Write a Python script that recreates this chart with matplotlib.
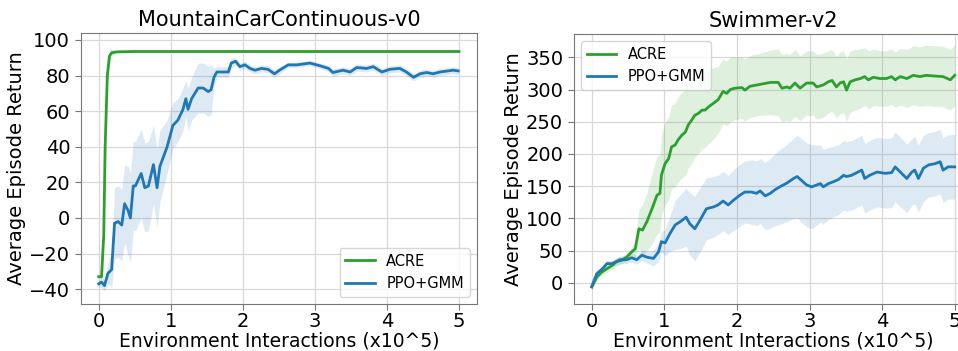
import matplotlib
matplotlib.use('Agg')
import matplotlib.pyplot as plt
import numpy as np

# MountainCarContinuous-v0
mc_acre_x = [0.00, 0.04, 0.07, 0.09, 0.12, 0.15, 0.18, 0.25, 0.50, 5.00]
mc_acre_y = [-33, -33, -10, 40, 80, 91, 92.8, 93.3, 93.5, 93.5]
mc_acre_sd = [1, 1, 2, 3, 4, 5, 2, 0.5, 0.3, 0.3]

mc_ppo_x = [0.00, 0.04, 0.08, 0.13, 0.18, 0.22, 0.27, 0.32, 0.36, 0.41, 0.44, 0.48, 0.51,
            0.59, 0.64, 0.69, 0.76, 0.81, 0.85, 0.95, 1.03, 1.10, 1.17, 1.21, 1.24, 1.29,
            1.38, 1.45, 1.52, 1.56, 1.60, 1.64, 1.73, 1.80, 1.84, 1.90, 1.96, 2.03, 2.10,
            2.17, 2.26, 2.35, 2.44, 2.51, 2.63, 2.75, 2.93, 3.07, 3.19, 3.25, 3.39, 3.49,
            3.58, 3.72, 3.81, 3.93, 4.04, 4.18, 4.27, 4.37, 4.46, 4.55, 4.64, 4.74, 4.83,
            4.92, 4.99]
mc_ppo_y = [-37, -36, -38, -31, -29, -3, -2, -4, 8, 4, 0, 18, 18,
            25, 17, 18, 30, 17, 29, 40, 52, 55, 61, 67, 61, 67,
            73, 73, 71, 72, 79, 82, 82, 82, 87, 88, 85, 86, 84,
            83, 84, 83.5, 81, 83, 86, 86, 87, 85.5, 84, 81.7, 83, 82,
            84.5, 84, 85, 82, 83.5, 84, 82, 79, 81, 81.7, 81, 82, 82.5,
            83, 82.6]
mc_ppo_sd = [2, 3, 3, 6, 10, 20, 20, 20, 22, 25, 25, 25, 25,
             25, 25, 25, 22, 22, 20, 15, 13, 12, 12, 10, 12, 12,
             14, 14, 14, 14, 5, 3, 3, 3, 3, 2, 2, 2, 2,
             2, 2, 2, 2, 2, 1.5, 1.5, 1.5, 1.5, 2, 2, 2, 2,
             2, 2, 2, 2, 2, 2, 2, 2, 2, 2, 2, 2, 2,
             2, 2]

# Swimmer-v2
sw_acre_x = [0.00, 0.07, 0.14, 0.21, 0.28, 0.34, 0.41, 0.48, 0.55, 0.60, 0.65, 0.70, 0.76,
             0.83, 0.90, 0.94, 0.96, 1.01, 1.06, 1.10, 1.15, 1.19, 1.24, 1.29, 1.33, 1.38,
             1.42, 1.47, 1.52, 1.56, 1.61, 1.68, 1.74, 1.81, 1.86, 1.91, 1.97, 2.07, 2.11,
             2.18, 2.32, 2.46, 2.57, 2.62, 2.69, 2.73, 2.80, 2.87, 2.96, 3.05, 3.10, 3.19,
             3.26, 3.31, 3.37, 3.42, 3.47, 3.51, 3.56, 3.63, 3.70, 3.76, 3.81, 3.88, 3.97,
             4.06, 4.13, 4.18, 4.25, 4.34, 4.43, 4.52, 4.61, 4.71, 4.84, 4.94, 5.00]
sw_acre_y = [-6, 9, 17, 22, 27, 33, 35, 40, 48, 53, 84, 82, 95,
             115, 136, 139, 167, 185, 193, 211, 214, 222, 229, 234, 245, 253,
             260, 263, 268, 268, 273, 279, 284, 297, 294, 300, 302, 303, 299,
             305, 308, 311, 311, 302, 304, 302, 310, 302, 310, 310, 304, 307,
             312, 314, 304, 310, 312, 299, 312, 315, 317, 320, 315, 319, 317,
             317, 320, 315, 320, 317, 322, 320, 322, 321, 320, 315, 322]
sw_acre_sd = [5, 5, 5, 6, 6, 6, 6, 6, 8, 12, 30, 40, 45,
              55, 60, 60, 62, 64, 65, 65, 65, 66, 66, 67, 67, 67,
              65, 62, 60, 58, 57, 55, 52, 50, 50, 50, 49, 48, 48,
              48, 48, 50, 52, 52, 52, 52, 52, 50, 50, 50, 50, 50,
              48, 48, 48, 48, 48, 48, 48, 47, 46, 45, 45, 44, 43,
              43, 43, 43, 44, 45, 46, 46, 47, 47, 47, 47, 47]

sw_ppo_x = [0.00, 0.07, 0.14, 0.21, 0.28, 0.34, 0.39, 0.48, 0.55, 0.62, 0.69, 0.76, 0.85,
            0.92, 0.96, 1.01, 1.08, 1.15, 1.22, 1.30, 1.35, 1.42, 1.49, 1.58, 1.68, 1.74,
            1.81, 1.88, 1.95, 2.04, 2.11, 2.20, 2.27, 2.32, 2.39, 2.46, 2.53, 2.59, 2.69,
            2.78, 2.83, 2.89, 2.96, 3.03, 3.10, 3.15, 3.19, 3.26, 3.33, 3.40, 3.47, 3.51,
            3.58, 3.65, 3.72, 3.76, 3.83, 3.93, 4.04, 4.13, 4.18, 4.25, 4.34, 4.41, 4.45,
            4.50, 4.57, 4.64, 4.73, 4.80, 4.84, 4.91, 5.00]
sw_ppo_y = [-6, 14.5, 21, 30, 30, 33, 36, 36, 39, 36, 43, 40, 38,
            48, 64, 62, 77, 90, 95, 102, 92, 84, 97, 115, 118, 121,
            127, 121, 128, 136, 141, 141, 139, 142.7, 135, 139, 145, 149, 155,
            162, 165, 159, 152, 149, 152, 154, 149, 154, 157, 160.5, 167, 165,
            167, 171, 175, 162, 167, 172, 170, 171, 180, 172, 162, 172, 175,
            162, 178, 183, 185, 188, 175, 180, 180]
sw_ppo_sd = [4, 5, 5, 5, 5, 6, 6, 6, 7, 7, 8, 9, 12,
             14, 16, 20, 28, 38, 42, 45, 48, 50, 50, 48, 47, 46,
             46, 46, 47, 48, 48, 50, 50, 50, 52, 54, 56, 58, 60,
             62, 64, 65, 65, 65, 62, 60, 58, 56, 55, 54, 54, 54,
             54, 54, 54, 54, 54, 54, 54, 54, 54, 54, 53, 52, 52,
             52, 51, 50, 50, 50, 50, 50, 50]

green = '#2ca02c'
blue = '#1f77b4'


def draw_curve(ax, x, y, sd, color, label):
    x = np.array(x)
    y = np.array(y)
    sd = np.array(sd)
    ax.fill_between(x, y - sd, y + sd, color=color, alpha=0.15, linewidth=0)
    ax.plot(x, y, color=color, linewidth=2, label=label)


def style_axes(ax):
    ax.grid(True, color='#d9d9d9', linewidth=0.9)
    ax.set_axisbelow(True)
    for sp in ax.spines.values():
        sp.set_color('#777777')
    ax.tick_params(colors='#777777', labelcolor='black', labelsize=14, length=4)
    ax.tick_params(axis='x', pad=2)
    ax.set_xticks([0, 1, 2, 3, 4, 5])
    ax.set_xlim(-0.25, 5.25)
    ax.set_xlabel('Environment Interactions (x10^5)', fontsize=13.5, labelpad=0)
    ax.set_ylabel('Average Episode Return', fontsize=14, labelpad=2)


fig = plt.figure(figsize=(9.58, 3.51), dpi=100)

# left panel
ax1 = fig.add_axes([0.0842, 0.134, 0.4137, 0.772])
draw_curve(ax1, mc_acre_x, mc_acre_y, mc_acre_sd, green, 'ACRE')
draw_curve(ax1, mc_ppo_x, mc_ppo_y, mc_ppo_sd, blue, 'PPO+GMM')
style_axes(ax1)
ax1.set_ylim(-48.3, 103.9)
ax1.set_yticks([-40, -20, 0, 20, 40, 60, 80, 100])
ax1.set_title('MountainCarContinuous-v0', fontsize=15, pad=5)
ax1.legend(loc='lower right', fontsize=10.5)

# right panel (runs past the right edge as in the original crop)
ax2 = fig.add_axes([0.5987, 0.134, 0.4168, 0.769])
draw_curve(ax2, sw_acre_x, sw_acre_y, sw_acre_sd, green, 'ACRE')
draw_curve(ax2, sw_ppo_x, sw_ppo_y, sw_ppo_sd, blue, 'PPO+GMM')
style_axes(ax2)
ax2.set_ylim(-32.6, 386)
ax2.set_yticks([0, 50, 100, 150, 200, 250, 300, 350])
ax2.set_title('Swimmer-v2', fontsize=15, pad=5)
ax2.legend(loc='upper left', fontsize=10.5)

plt.savefig('out.png', dpi=100)
